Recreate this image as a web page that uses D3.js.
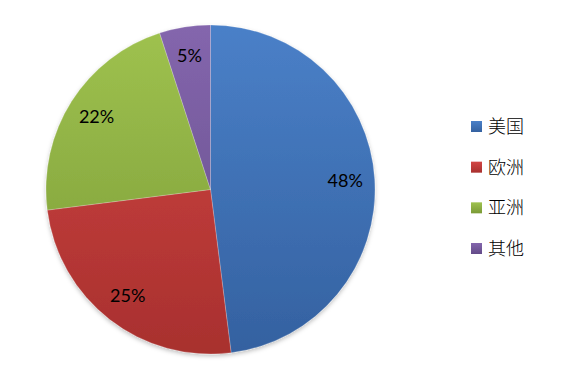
<!DOCTYPE html>
<html>
<head>
<meta charset="utf-8">
<script src="https://cdn.jsdelivr.net/npm/d3@7"></script>
<style>
  body { margin: 0; background: #fff; }
</style>
</head>
<body>
<div id="chart"></div>
<script>
const categories = ['美国', '欧洲', '亚洲', '其他'];
const shares = [48, 25, 22, 5];
const colorsTop = ['#4a80c8', '#d24644', '#9fc24f', '#8466ad'];
const colorsBottom = ['#3461a0', '#a8302e', '#7a9a36', '#634b88'];

const width = 563, height = 381;
const cx = 210.5, cy = 189.5, radius = 164.5;

const svg = d3.select('#chart').append('svg')
  .attr('width', width)
  .attr('height', height);

const defs = svg.append('defs');

// soft shadow under the pie
const shadow = defs.append('filter').attr('id', 'shadow')
  .attr('x', '-10%').attr('y', '-10%').attr('width', '120%').attr('height', '120%');
shadow.append('feDropShadow')
  .attr('dx', 0).attr('dy', 2).attr('stdDeviation', 2)
  .attr('flood-color', '#000').attr('flood-opacity', 0.25);

categories.forEach((c, i) => {
  const g = defs.append('linearGradient')
    .attr('id', 'grad' + i)
    .attr('gradientUnits', 'userSpaceOnUse')
    .attr('x1', 0).attr('y1', -radius).attr('x2', 0).attr('y2', radius);
  g.append('stop').attr('offset', '0%').attr('stop-color', colorsTop[i]);
  g.append('stop').attr('offset', '100%').attr('stop-color', colorsBottom[i]);

  const lg = defs.append('linearGradient')
    .attr('id', 'lg' + i)
    .attr('x1', 0).attr('y1', 0).attr('x2', 0).attr('y2', 1);
  lg.append('stop').attr('offset', '0%').attr('stop-color', colorsTop[i]);
  lg.append('stop').attr('offset', '100%').attr('stop-color', colorsBottom[i]);
});

const data = categories.map((c, i) => ({ name: c, value: shares[i], idx: i }));

const pie = d3.pie().sort(null).value(d => d.value);
const arc = d3.arc().innerRadius(0).outerRadius(radius);
const labelArc = d3.arc().innerRadius(135).outerRadius(135);

const group = svg.append('g')
  .attr('transform', 'translate(' + cx + ', ' + cy + ')');

const arcs = pie(data);

group.append('g')
  .attr('filter', 'url(#shadow)')
  .selectAll('path')
  .data(arcs)
  .enter()
  .append('path')
  .attr('d', arc)
  .attr('fill', d => 'url(#grad' + d.data.idx + ')')
  .attr('stroke', 'rgba(255,255,255,0.35)')
  .attr('stroke-width', 0.6);

// percentage labels
group.selectAll('text.pct')
  .data(arcs)
  .enter()
  .append('text')
  .attr('class', 'pct')
  .attr('x', d => labelArc.centroid(d)[0])
  .attr('y', d => labelArc.centroid(d)[1])
  .attr('dy', '0.35em')
  .attr('text-anchor', 'middle')
  .attr('font-family', 'Lato, "Open Sans", sans-serif')
  .attr('font-size', '18px')
  .attr('fill', '#000')
  .text(d => d.data.value + '%');

// legend
const legendY = d3.scalePoint()
  .domain(categories)
  .range([126.5, 248.5]);

const items = svg.append('g').attr('class', 'legend')
  .selectAll('g')
  .data(data)
  .enter()
  .append('g')
  .attr('transform', d => 'translate(471, ' + legendY(d.name) + ')');

items.append('rect')
  .attr('x', 0).attr('y', -5.5)
  .attr('width', 11).attr('height', 11)
  .attr('fill', d => 'url(#lg' + d.idx + ')');

items.append('text')
  .attr('x', 17)
  .attr('y', 0)
  .attr('dy', '0.36em')
  .attr('font-family', '"Noto Sans CJK SC", sans-serif')
  .attr('font-weight', 300)
  .attr('font-size', '18px')
  .attr('fill', '#000')
  .text(d => d.name);
</script>
</body>
</html>
